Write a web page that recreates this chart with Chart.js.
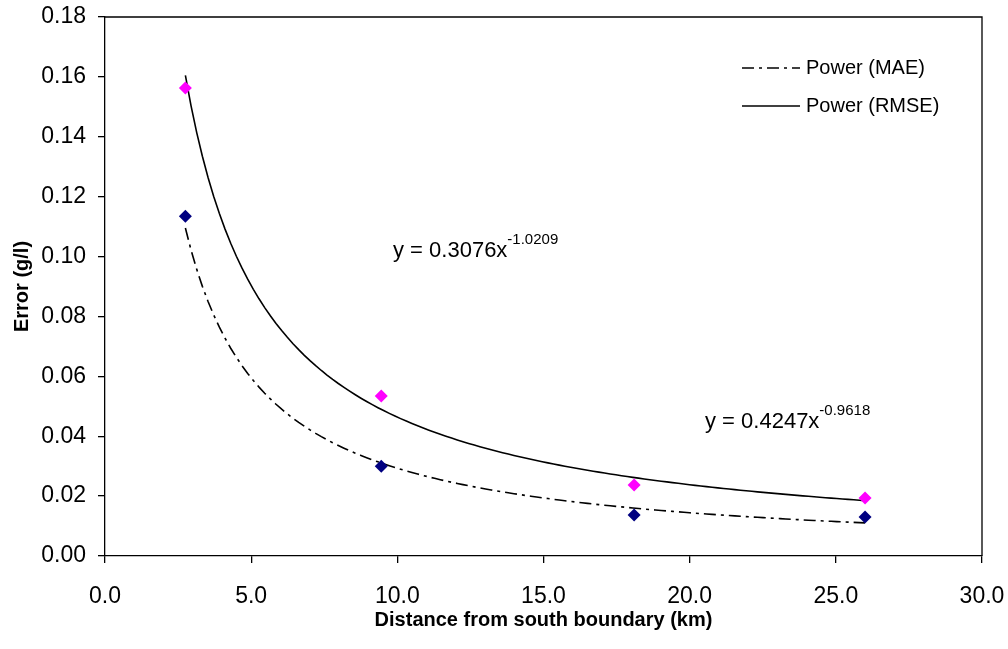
<!DOCTYPE html>
<html>
<head>
<meta charset="utf-8">
<script src="https://cdn.jsdelivr.net/npm/chart.js@4/dist/chart.umd.min.js"></script>
<style>
  html, body { margin: 0; padding: 0; background: #ffffff; }
  #wrap { width: 1008px; height: 649px; }
</style>
</head>
<body>
<div id="wrap"><canvas id="chart" width="1008" height="649"></canvas></div>
<script>
// Distance of each monitoring section from the south boundary (km)
const distances = [2.75, 9.45, 18.1, 26.0];
// Error statistics (g/l) at each distance
const maeValues = [0.1135, 0.0300, 0.0137, 0.0130];
const rmseValues = [0.1563, 0.0534, 0.0237, 0.0194];
// Power-law trend coefficients, y = a * x^b
const maeFitA = 0.3076, maeFitB = -1.0209;
const rmseFitA = 0.4247, rmseFitB = -0.9618;
// Axis ticks
const xTickValues = [0, 5, 10, 15, 20, 25, 30];
const xTickLabels = ['0.0', '5.0', '10.0', '15.0', '20.0', '25.0', '30.0'];
const yTickValues = [0, 0.02, 0.04, 0.06, 0.08, 0.10, 0.12, 0.14, 0.16, 0.18];
const yTickLabels = ['0.00', '0.02', '0.04', '0.06', '0.08', '0.10', '0.12', '0.14', '0.16', '0.18'];

const FONT = '"Liberation Sans", Arial, Helvetica, sans-serif';
const DASH_DOT = [12, 5, 3, 5];

// Points of a power-law curve over the measured distance range
function powerCurve(a, b) {
  const x0 = distances[0], x1 = distances[distances.length - 1];
  const steps = 120;
  const pts = [];
  for (let i = 0; i <= steps; i++) {
    const x = x0 + (x1 - x0) * i / steps;
    pts.push({ x: x, y: a * Math.pow(x, b) });
  }
  return pts;
}

const toPoints = (ys) => distances.map((x, i) => ({ x: x, y: ys[i] }));

// Keep the plot area fixed by the layout padding alone
function fixedSize(prop, size) {
  return function (scale) {
    scale[prop] = size;
    scale.paddingTop = 0;
    scale.paddingBottom = 0;
    scale.paddingLeft = 0;
    scale.paddingRight = 0;
  };
}

// Top and right frame of the plot area
const framePlugin = {
  id: 'frame',
  beforeDatasetsDraw(chart) {
    const { ctx, chartArea: a } = chart;
    ctx.save();
    ctx.strokeStyle = '#000';
    ctx.lineWidth = 1.3;
    ctx.beginPath();
    ctx.moveTo(a.left, a.top);
    ctx.lineTo(a.right, a.top);
    ctx.lineTo(a.right, a.bottom);
    ctx.stroke();
    ctx.restore();
  }
};

// Legend for the two trend lines
const trendLegendPlugin = {
  id: 'trendLegend',
  afterDraw(chart) {
    const { ctx } = chart;
    const items = chart.data.datasets.filter(d => d.inLegend);
    ctx.save();
    items.forEach((d, i) => {
      const y = 68 + i * 38;
      ctx.strokeStyle = d.borderColor;
      ctx.lineWidth = d.borderWidth;
      ctx.setLineDash(d.borderDash || []);
      ctx.beginPath();
      ctx.moveTo(742, y);
      ctx.lineTo(800, y);
      ctx.stroke();
      ctx.setLineDash([]);
      ctx.fillStyle = '#000';
      ctx.font = '20px ' + FONT;
      ctx.textBaseline = 'middle';
      ctx.textAlign = 'left';
      ctx.fillText(d.label, 806, y);
    });
    ctx.restore();
  }
};

// Trend equations with superscript exponents
const equationPlugin = {
  id: 'equations',
  afterDraw(chart) {
    const { ctx } = chart;
    const eqs = [
      { a: maeFitA, b: maeFitB, x: 393, y: 257 },
      { a: rmseFitA, b: rmseFitB, x: 705, y: 428 }
    ];
    ctx.save();
    ctx.fillStyle = '#000';
    ctx.textBaseline = 'alphabetic';
    ctx.textAlign = 'left';
    eqs.forEach(e => {
      const main = 'y = ' + e.a.toFixed(4) + 'x';
      ctx.font = '22px ' + FONT;
      ctx.fillText(main, e.x, e.y);
      const w = ctx.measureText(main).width;
      ctx.font = '15px ' + FONT;
      ctx.fillText(e.b.toFixed(4), e.x + w, e.y - 13);
    });
    ctx.restore();
  }
};

new Chart(document.getElementById('chart'), {
  type: 'scatter',
  data: {
    datasets: [
      {
        label: 'MAE',
        data: toPoints(maeValues),
        pointStyle: 'rectRot',
        pointRadius: 6.5,
        pointHoverRadius: 6.5,
        backgroundColor: '#000080',
        borderColor: '#000080',
        borderWidth: 0,
        showLine: false,
        order: 0
      },
      {
        label: 'RMSE',
        data: toPoints(rmseValues),
        pointStyle: 'rectRot',
        pointRadius: 6.5,
        pointHoverRadius: 6.5,
        backgroundColor: '#FF00FF',
        borderColor: '#FF00FF',
        borderWidth: 0,
        showLine: false,
        order: 0
      },
      {
        label: 'Power (MAE)',
        inLegend: true,
        data: powerCurve(maeFitA, maeFitB),
        showLine: true,
        pointRadius: 0,
        borderColor: '#000',
        borderWidth: 1.6,
        borderDash: DASH_DOT,
        tension: 0,
        order: 1
      },
      {
        label: 'Power (RMSE)',
        inLegend: true,
        data: powerCurve(rmseFitA, rmseFitB),
        showLine: true,
        pointRadius: 0,
        borderColor: '#000',
        borderWidth: 1.6,
        tension: 0,
        order: 1
      }
    ]
  },
  options: {
    responsive: false,
    animation: false,
    events: [],
    layout: { padding: { left: 0, right: 26, top: 17, bottom: 0 } },
    plugins: {
      legend: { display: false },
      tooltip: { enabled: false },
      title: { display: false }
    },
    scales: {
      x: {
        type: 'linear',
        min: 0,
        max: 30,
        afterFit: fixedSize('height', 93),
        afterBuildTicks(scale) { scale.ticks = xTickValues.map(v => ({ value: v })); },
        ticks: {
          color: '#000',
          font: { family: FONT, size: 23 },
          padding: 20,
          maxRotation: 0,
          callback: (v, i) => xTickLabels[i]
        },
        grid: {
          display: true,
          drawOnChartArea: false,
          drawTicks: true,
          tickLength: 7,
          color: '#000',
          lineWidth: 1.3
        },
        border: { display: true, color: '#000', width: 1.3 },
        title: {
          display: true,
          text: 'Distance from south boundary (km)',
          color: '#000',
          font: { family: FONT, size: 20, weight: 'bold', lineHeight: 1 },
          padding: { top: 0, bottom: 19 }
        }
      },
      y: {
        type: 'linear',
        min: 0,
        max: 0.18,
        afterFit: fixedSize('width', 105),
        afterBuildTicks(scale) { scale.ticks = yTickValues.map(v => ({ value: v })); },
        ticks: {
          color: '#000',
          font: { family: FONT, size: 23 },
          padding: 12,
          callback: (v, i) => yTickLabels[i]
        },
        grid: {
          display: true,
          drawOnChartArea: false,
          drawTicks: true,
          tickLength: 7,
          color: '#000',
          lineWidth: 1.3
        },
        border: { display: true, color: '#000', width: 1.3 },
        title: {
          display: true,
          text: 'Error (g/l)',
          color: '#000',
          font: { family: FONT, size: 20, weight: 'bold', lineHeight: 1 },
          padding: { top: 12, bottom: 0 }
        }
      }
    }
  },
  plugins: [framePlugin, trendLegendPlugin, equationPlugin]
});
</script>
</body>
</html>
